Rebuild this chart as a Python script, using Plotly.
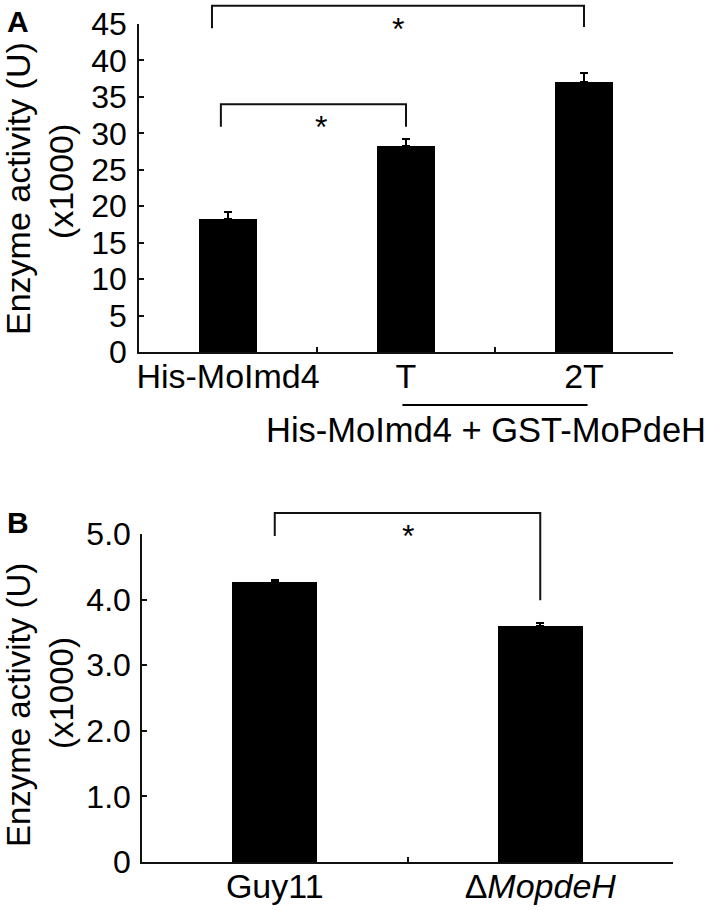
import plotly.graph_objects as go

# ---------------- data ----------------
cats_a = ["His-MoImd4", "T", "2T"]
vals_a = [18.2, 28.3, 37.0]
err_a = [1.0, 0.9, 1.3]
ytick_a = [0, 5, 10, 15, 20, 25, 30, 35, 40, 45]
ytext_a = ["0", "5", "10", "15", "20", "25", "30", "35", "40", "45"]

cats_b = ["Guy11", "ΔMopdeH"]
labels_b = ["Guy11", "Δ<i>MopdeH</i>"]
vals_b = [4.27, 3.60]
err_b = [0.03, 0.04]
ytick_b = [0, 1, 2, 3, 4, 5]
ytext_b = ["0", "1.0", "2.0", "3.0", "4.0", "5.0"]

# significance brackets: (left idx, right idx, top, left bottom, right bottom)
brackets_a = [(-0.04, 1.0, 34.0, 30.9, 30.9), (-0.09, 2.0, 47.5, 44.4, 44.6)]
brackets_b = [(0.0, 1.0, 5.32, 4.97, 3.99)]

YMAX_A = 45
YMAX_B = 5

FONT = "Arial, Liberation Sans, Helvetica, sans-serif"
W, H = 709, 910

# plot areas (paper fractions)
dom_ax = [139 / W, 673 / W]
dom_ay = [1 - 352 / H, 1 - 24 / H]
dom_bx = [142 / W, 673 / W]
dom_by = [1 - 862 / H, 1 - 534 / H]

fig = go.Figure()

fig.add_trace(go.Bar(
    x=cats_a, y=vals_a, width=0.33,
    marker=dict(color="black", line=dict(width=0)),
    error_y=dict(type="data", array=err_a, arrayminus=[0] * len(err_a),
                 color="black", thickness=2, width=4),
    xaxis="x", yaxis="y", showlegend=False,
))
fig.add_trace(go.Bar(
    x=cats_b, y=vals_b, width=0.32,
    marker=dict(color="black", line=dict(width=0)),
    error_y=dict(type="data", array=err_b, arrayminus=[0] * len(err_b),
                 color="black", thickness=2, width=4),
    xaxis="x2", yaxis="y2", showlegend=False,
))

axis_common = dict(
    showline=True, linecolor="#111", linewidth=1.5,
    showgrid=False, zeroline=False, automargin=False,
    ticks="inside", ticklen=5, tickwidth=1.5, tickcolor="#111",
)
yfont = dict(family=FONT, size=32, color="black")
xfont = dict(family=FONT, size=34, color="black")

fig.update_layout(
    width=W, height=H,
    margin=dict(l=0, r=0, t=0, b=0, autoexpand=False),
    paper_bgcolor="white", plot_bgcolor="white",
    bargap=0,
    xaxis=dict(domain=dom_ax, anchor="y", type="category", tickson="boundaries",
               range=[-0.5, 2.5], tickangle=0, tickfont=xfont,
               ticklabelstandoff=-7, **axis_common),
    yaxis=dict(domain=dom_ay, anchor="x", range=[0, YMAX_A],
               tickvals=ytick_a, ticktext=ytext_a, tickfont=yfont,
               ticklabelstandoff=4, **axis_common),
    xaxis2=dict(domain=dom_bx, anchor="y2", type="category", tickson="boundaries",
                range=[-0.5, 1.5], tickvals=cats_b, ticktext=labels_b,
                tickangle=0, tickfont=xfont, ticklabelstandoff=-7, **axis_common),
    yaxis2=dict(domain=dom_by, anchor="x2", range=[0, YMAX_B],
                tickvals=ytick_b, ticktext=ytext_b, tickfont=yfont,
                ticklabelstandoff=3, **axis_common),
)

shapes = []
annotations = []


def add_brackets(brackets, n, ymax, xr, yr):
    for (l, r, top, lb, rb) in brackets:
        xl = (l + 0.5) / n
        xr_ = (r + 0.5) / n
        shapes.append(dict(
            type="path", xref=xr, yref=yr,
            path=f"M {xl},{lb / ymax} L {xl},{top / ymax} L {xr_},{top / ymax} L {xr_},{rb / ymax}",
            line=dict(color="#111", width=2),
        ))
        annotations.append(dict(
            xref=xr, yref=yr, x=(xl + xr_) / 2, y=top / ymax,
            text="*", showarrow=False, yanchor="top", yshift=-3,
            font=dict(family=FONT, size=32, color="black"),
        ))


add_brackets(brackets_a, len(cats_a), YMAX_A, "x domain", "y domain")
add_brackets(brackets_b, len(cats_b), YMAX_B, "x2 domain", "y2 domain")

# group line under T / 2T
shapes.append(dict(type="line", xref="x domain", yref="y domain",
                   x0=(1 - 0.02 + 0.5) / 3, x1=(2 + 0.02 + 0.5) / 3,
                   y0=-0.1616, y1=-0.1616, line=dict(color="black", width=2)))
annotations.append(dict(xref="paper", yref="paper", x=486 / W, y=1 - 430 / H,
                        text="His-MoImd4 + GST-MoPdeH", showarrow=False,
                        xanchor="center", yanchor="middle",
                        font=dict(family=FONT, size=34.5, color="black")))

# y titles
for (xc, yc, txt, fs) in [(18, 189, "Enzyme activity (U)", 34), (61, 182, "(x1000)", 34),
                          (18, 705, "Enzyme activity (U)", 33), (61, 693, "(x1000)", 33)]:
    annotations.append(dict(xref="paper", yref="paper", x=xc / W, y=1 - yc / H,
                            text=txt, textangle=-90, showarrow=False,
                            xanchor="center", yanchor="middle",
                            font=dict(family=FONT, size=fs, color="black")))

# panel letters
for (xc, yc, txt) in [(18, 21, "A"), (18, 522, "B")]:
    annotations.append(dict(xref="paper", yref="paper", x=xc / W, y=1 - yc / H,
                            text=f"<b>{txt}</b>", showarrow=False,
                            xanchor="center", yanchor="middle",
                            font=dict(family=FONT, size=30, color="black")))

fig.update_layout(shapes=shapes, annotations=annotations)

fig.write_html("out.html", config={"displayModeBar": False},
               post_script="document.body.style.margin='0px';document.body.style.overflow='hidden';")
